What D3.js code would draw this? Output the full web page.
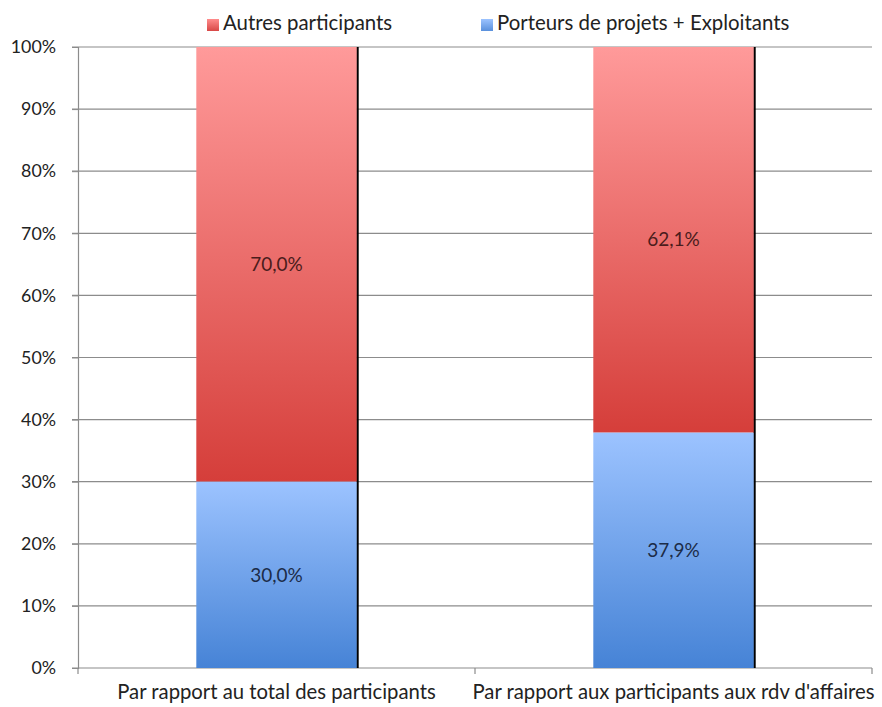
<!DOCTYPE html>
<html><head><meta charset="utf-8">
<script src="https://cdn.jsdelivr.net/npm/d3@7"></script>
<style>body{margin:0;background:#fff}svg{display:block}text{font-family:Lato,"Open Sans",sans-serif}</style>
</head><body>
<svg id="c" width="882" height="707"></svg>
<script>
const categories = ["Par rapport au total des participants", "Par rapport aux participants aux rdv d'affaires"];
const porteurs = [30.0, 37.9];
const autres = [70.0, 62.1];
const seriesNames = ["Autres participants", "Porteurs de projets + Exploitants"];
const yTicks = [0,10,20,30,40,50,60,70,80,90,100];

const FONT = 'Lato,"Open Sans",sans-serif';
const svg = d3.select("#c");
const m = {l:78, r:872, t:47, b:668};
const x = d3.scaleBand().domain(categories).range([m.l, m.r]).paddingInner(0).paddingOuter(0);
const y = d3.scaleLinear().domain([0,100]).range([m.b, m.t]);
const bw = x.bandwidth()*0.404;

const defs = svg.append("defs");
function grad(id, c1, c2){
  const g = defs.append("linearGradient").attr("id", id).attr("x1",0).attr("y1",0).attr("x2",0).attr("y2",1);
  g.append("stop").attr("offset","0%").attr("stop-color",c1);
  g.append("stop").attr("offset","100%").attr("stop-color",c2);
}
grad("gr", "#ff9a9a", "#d53e3a");
grad("gb", "#9cc3ff", "#4683d6");
grad("lr", "#ff8c8c", "#d84846");
grad("lb", "#9cc3ff", "#5a90dc");

// gridlines
svg.append("g").selectAll("line").data(yTicks).join("line")
  .attr("x1", m.l-6).attr("x2", m.r).attr("y1", d=>y(d)).attr("y2", d=>y(d))
  .attr("stroke", "#8c8c8c").attr("stroke-width", 1.2);

// y axis
const yAxis = d3.axisLeft(y).tickValues(yTicks).tickFormat(d=>d+"%").tickSize(6).tickPadding(16);
const ya = svg.append("g").attr("transform", `translate(${m.l},0)`).call(yAxis);
ya.select(".domain").attr("stroke","#8c8c8c").attr("stroke-width",1.2);
ya.selectAll(".tick line").attr("stroke","#8c8c8c");
ya.selectAll("text").attr("font-size", 17.8).attr("fill","#222").attr("font-family",FONT);

// x axis
const xAxis = d3.axisBottom(x).tickSize(0).tickPadding(17);
const xa = svg.append("g").attr("transform", `translate(0,${m.b})`).call(xAxis);
xa.select(".domain").remove();
xa.selectAll("text").attr("font-size", 20.3).attr("fill","#222").attr("font-family",FONT);
svg.append("g").selectAll("line").data([m.l, m.l + x.bandwidth(), m.r]).join("line")
  .attr("x1", d=>d).attr("x2", d=>d).attr("y1", m.b).attr("y2", m.b+6)
  .attr("stroke","#8c8c8c").attr("stroke-width",1.2);

const data = categories.map((c,i)=>({c, p:porteurs[i], a:autres[i]}));
const cx = d => x(d.c) + x.bandwidth()/2;

const bars = svg.append("g").selectAll("g").data(data).join("g");
// shadow
bars.append("rect").attr("x", d=>cx(d)+bw/2-0.5).attr("width", 2.5)
  .attr("y", y(100)).attr("height", y(0)-y(100)).attr("fill","#000");
bars.append("rect").attr("x", d=>cx(d)-bw/2).attr("width", bw)
  .attr("y", d=>y(d.p+d.a)).attr("height", d=>y(d.p)-y(d.p+d.a)).attr("fill","url(#gr)");
bars.append("rect").attr("x", d=>cx(d)-bw/2).attr("width", bw)
  .attr("y", d=>y(d.p)).attr("height", d=>y(0)-y(d.p)).attr("fill","url(#gb)");

const fmt = v => v.toFixed(1).replace(".", ",") + "%";
bars.append("text").attr("x", cx).attr("y", d=>y(d.p + d.a/2)).attr("dy","0.35em")
  .attr("text-anchor","middle").attr("font-size",19).attr("fill","#4a1c1c").text(d=>fmt(d.a));
bars.append("text").attr("x", cx).attr("y", d=>y(d.p/2)).attr("dy","0.35em")
  .attr("text-anchor","middle").attr("font-size",19).attr("fill","#1c2c48").text(d=>fmt(d.p));

// legend
const leg = [{n:seriesNames[0], c:"url(#lr)", x:207},{n:seriesNames[1], c:"url(#lb)", x:481}];
const lg = svg.append("g").selectAll("g").data(leg).join("g");
lg.append("rect").attr("x", d=>d.x).attr("y", 19).attr("width",12).attr("height",12).attr("fill", d=>d.c);
lg.append("text").attr("x", d=>d.x+16).attr("y", 30).attr("font-size",20.4).attr("fill","#222").text(d=>d.n);
</script>
</body></html>
